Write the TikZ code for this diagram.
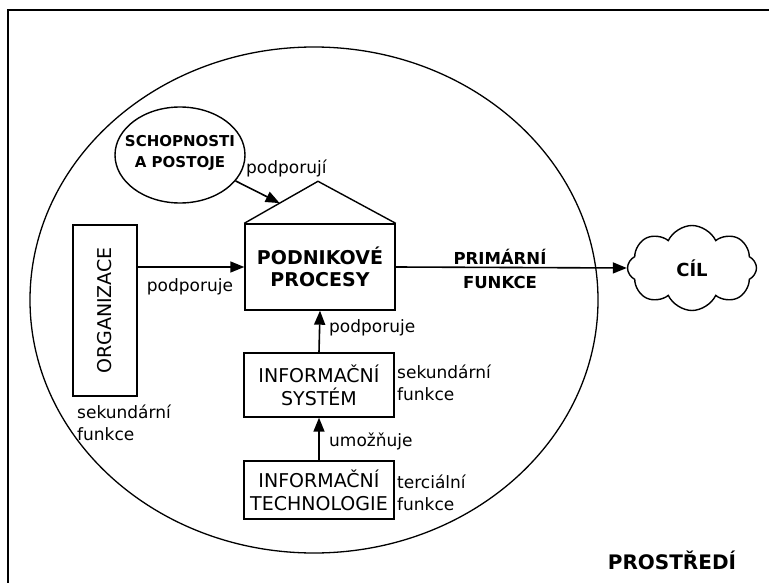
\documentclass[tikz,border=0pt]{standalone}
\usepackage{fontspec}
\setmainfont{DejaVu Sans}
\usetikzlibrary{arrows.meta,shapes.geometric,shapes.symbols,calc}
\begin{document}
\begin{tikzpicture}[x=1pt,y=-1pt,
  box/.style={draw,line width=1.4pt,inner sep=0pt,align=center},
  boxfont/.style={font=\fontsize{19}{23}\selectfont},
  boldfont/.style={font=\bfseries\fontsize{19}{22}\selectfont},
  lbl/.style={font=\fontsize{17}{22.5}\selectfont,align=left,inner sep=0pt},
  arr/.style={line width=1.6pt,-{Triangle[length=14pt,width=11pt]}},
]
\useasboundingbox (0,0) rectangle (769,583);

% frame and environment
\draw[line width=2pt] (8,10) rectangle (800,610);
\draw[line width=1.3pt] (314,300) ellipse [x radius=284, y radius=253];
\node[font=\bfseries\fontsize{20}{24}\selectfont] (env) at (672,560) {PROSTŘEDÍ};

% business processes (house)
\node[box,boldfont,minimum width=150pt,minimum height=86pt] (house) at (320,267) {PODNIKOVÉ\\PROCESY};
\coordinate (peak) at ($(house.north)+(-2,-42)$);
\draw[line width=1.4pt] (house.north west) -- (peak) -- (house.north east);
\coordinate (rooftip) at ($(house.north west)!0.48!(peak)$);

% abilities and attitudes
\node[draw,ellipse,line width=1.4pt,minimum width=130pt,minimum height=96pt,inner sep=0pt] (schop) at (180,155) {};
\node[font=\bfseries\fontsize{15}{21}\selectfont,align=center] (schoptext) at (180,152.5) {SCHOPNOSTI\\A POSTOJE};
\draw[arr] (schop.-25) -- (rooftip);
\node[lbl,anchor=west] (lsupp) at (246,168) {podporují};

% organisation
\node[box,minimum width=64pt,minimum height=171pt] (org) at (105,310.5) {};
\node[boxfont,rotate=90] (orgtext) at (org) {ORGANIZACE};
\draw[arr] (org.east |- house.west) -- (house.west);
\node[lbl] (lorg) at (190,287) {podporuje};
\node[lbl,anchor=west] (lorg2) at (77,423) {sekundární\\funkce};

% information system
\node[box,boxfont,minimum width=150pt,minimum height=64pt] (is) at (319,385) {INFORMAČNÍ\\SYSTÉM};
\draw[arr] (is.north) -- (house.south);
\node[lbl,anchor=west] (lis) at (329,328) {podporuje};
\node[lbl,anchor=west] (lis2) at (397,383) {sekundární\\funkce};

% information technology
\node[box,boxfont,minimum width=150pt,minimum height=58pt] (it) at (319,490) {INFORMAČNÍ\\TECHNOLOGIE};
\draw[arr] (it.north) -- (is.south);
\node[lbl,anchor=west] (lit) at (329,441) {umožňuje};
\node[lbl,anchor=west] (lit2) at (397,493) {terciální\\funkce};

% goal
\node[draw,cloud,cloud puffs=8,cloud puff arc=130,aspect=1.5,line width=1.4pt,
      minimum width=129pt,minimum height=85pt,inner sep=0pt,
      font=\bfseries\fontsize{18}{22}\selectfont] (goal) at (692,268) {CÍL};
\draw[arr] (house.east) -- (goal.west);
\node[font=\bfseries\fontsize{16.5}{24}\selectfont,align=center] (lprim) at (500,269) {PRIMÁRNÍ\\FUNKCE};
\end{tikzpicture}
\end{document}
